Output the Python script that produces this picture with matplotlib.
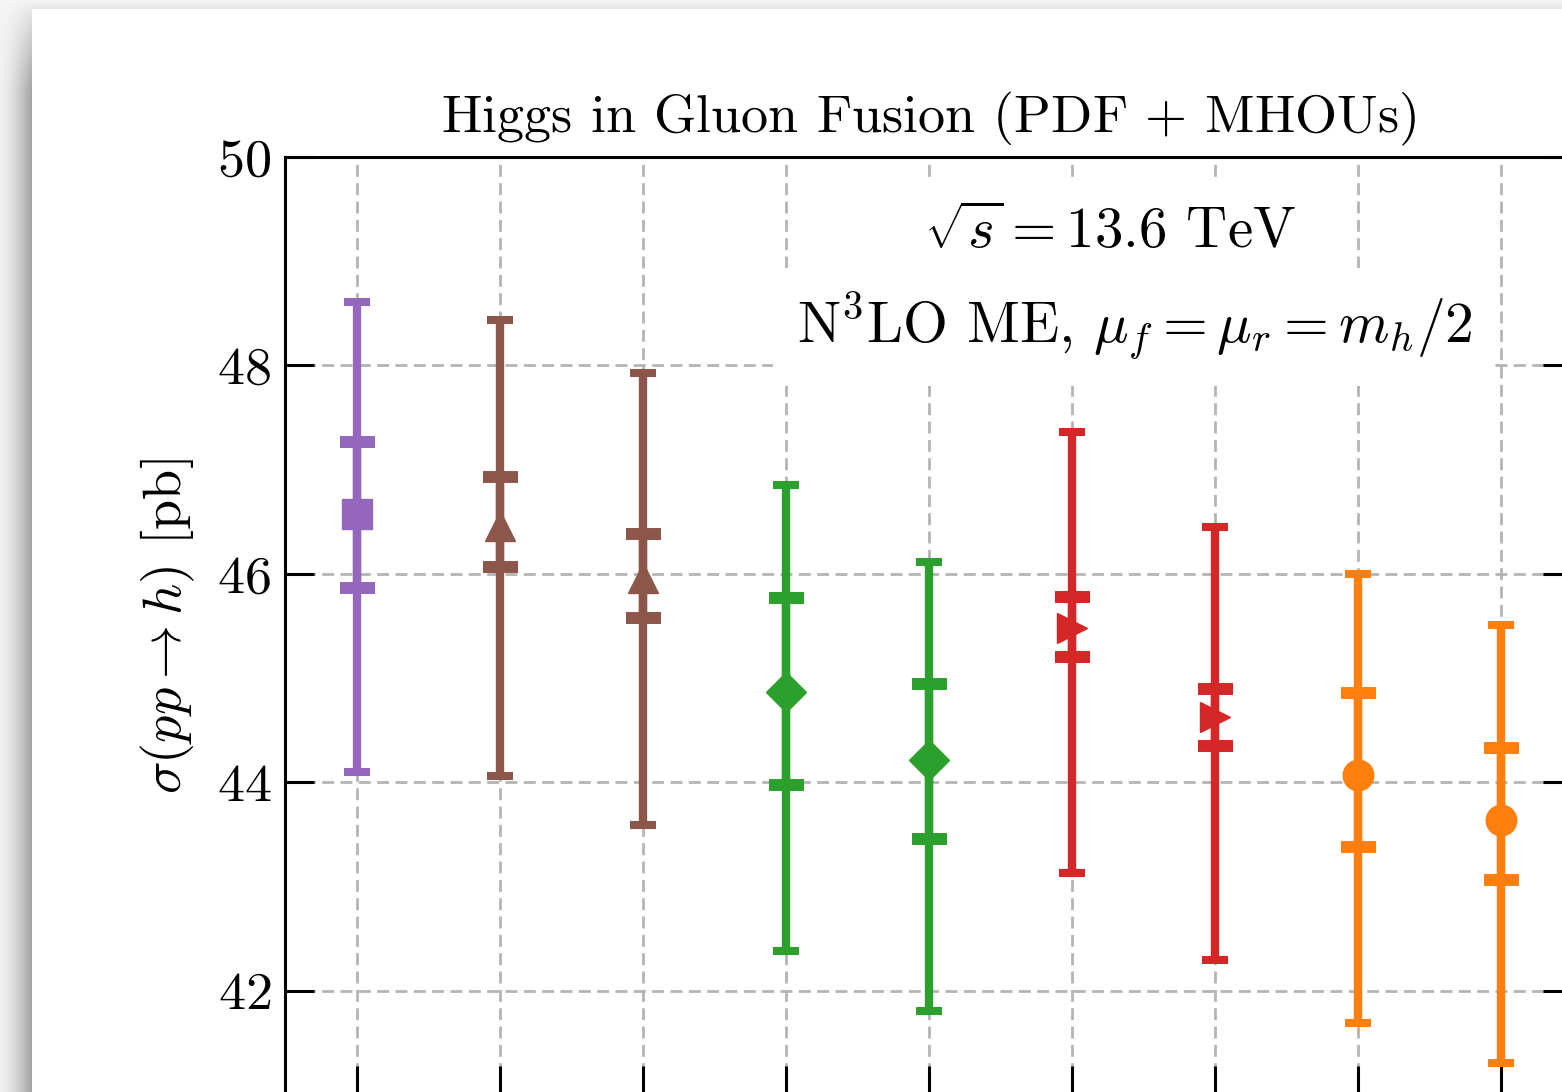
#!/usr/bin/env python3

import numpy as np
import matplotlib
matplotlib.use('Agg')
import matplotlib.pyplot as plt

"""values read off the picture (pb)"""
central = [46.57, 46.46, 45.96, 44.87, 44.21, 45.48, 44.63, 44.07, 43.64]
total_hi = [48.61, 48.44, 47.93, 46.85, 46.11, 47.36, 46.45, 46.00, 45.51]
total_lo = [44.10, 44.06, 43.59, 42.38, 41.81, 43.13, 42.30, 41.69, 41.31]
inner_hi = [47.27, 46.93, 46.38, 45.77, 44.94, 45.78, 44.90, 44.86, 44.33]
inner_lo = [45.86, 46.07, 45.58, 43.97, 43.46, 45.20, 44.35, 43.38, 43.06]
colors = ['#9467bd', '#8c564b', '#8c564b', '#2ca02c', '#2ca02c',
          '#d62728', '#d62728', '#ff7f0e', '#ff7f0e']
markers = ['s', '^', '^', 'D', 'D', '>', '>', 'o', 'o']
msizes = [22, 22, 22, 20, 20, 22, 22, 22, 22]
y_ticks = [42, 44, 46, 48, 50]

plt.rcParams['font.family'] = 'serif'
plt.rcParams['font.serif'] = ['cmr10']
plt.rcParams['mathtext.fontset'] = 'cm'
plt.rcParams['axes.formatter.use_mathtext'] = True
plt.rcParams['axes.unicode_minus'] = False

W, H = 1562, 1092
fig = plt.figure(figsize=(W / 100, H / 100), dpi=100)

"""card with a soft shadow on the left/top"""
xx, yy = np.meshgrid(np.arange(W), np.arange(H))
bg = np.ones((H, W))
left = xx < 32
top = (yy < 9) & ~left
fade = np.clip(yy / 90.0, 0, 1) ** 0.8
dark_left = (0.06 + 0.30 * (xx / 31.0) ** 1.5) * fade + 0.04 * (1 - fade)
bg[left] = 1 - dark_left[left]
bg[top] = 1 - (0.04 + 0.06 * (yy[top] / 8.0))
ax_bg = fig.add_axes([0, 0, 1, 1], zorder=-10)
ax_bg.imshow(bg, cmap='gray', vmin=0, vmax=1, aspect='auto', interpolation='nearest')
ax_bg.axis('off')

"""main axes, partly cut off at the right and bottom"""
x0, x1, ytop, ybot = 285, 1572, 157, 1095
ax = fig.add_axes([x0 / W, 1 - ybot / H, (x1 - x0) / W, (ybot - ytop) / H])
ax.set_facecolor('white')

x = np.arange(len(central))
for i in range(len(central)):
    c = central[i]
    ax.errorbar(x[i], c, yerr=[[c - total_lo[i]], [total_hi[i] - c]], fmt='none',
                ecolor=colors[i], elinewidth=6, capsize=9.4, capthick=5.8, zorder=3)
    ax.errorbar(x[i], c, yerr=[[c - inner_lo[i]], [inner_hi[i] - c]], fmt='none',
                ecolor=colors[i], elinewidth=6, capsize=12.6, capthick=8.6, zorder=3)
    ax.plot(x[i], c, marker=markers[i], color=colors[i], markersize=msizes[i],
            markeredgewidth=1, linestyle='none', zorder=4)

ax.set_xlim(-0.5, len(central) - 0.5)
ax.set_ylim(41, 50)
ax.set_xticks(x)
ax.set_xticklabels([''] * len(x))
ax.set_yticks(y_ticks)

ax.set_axisbelow(True)
ax.grid(True, which='major', axis='both', color='#b4b4b4', linewidth=2.0,
        linestyle=(0, (4.3, 2.3)))

for s in ax.spines.values():
    s.set_linewidth(2.2)
ax.tick_params(axis='both', direction='in', length=21, width=2.2, labelsize=39,
               pad=10, right=True, top=False)

ax.set_title(r'Higgs in Gluon Fusion (PDF$\,+\,$MHOUs)', fontsize=39, pad=18)
ax.set_ylabel(r'$\sigma(pp \to h)$ [pb]', fontsize=39, labelpad=14)

box = dict(boxstyle='square,pad=0.4', facecolor='white', edgecolor='none')
ax.text(0.641, 0.920, r'$\sqrt{s} = 13.6$ TeV', transform=ax.transAxes,
        ha='center', va='center', fontsize=41, bbox=box, zorder=5)
ax.text(0.660, 0.819, r'N$^3$LO ME, $\mu_f = \mu_r = m_h/2$', transform=ax.transAxes,
        ha='center', va='center', fontsize=41.5, bbox=box, zorder=5)

plt.savefig('out.png', dpi=100)
